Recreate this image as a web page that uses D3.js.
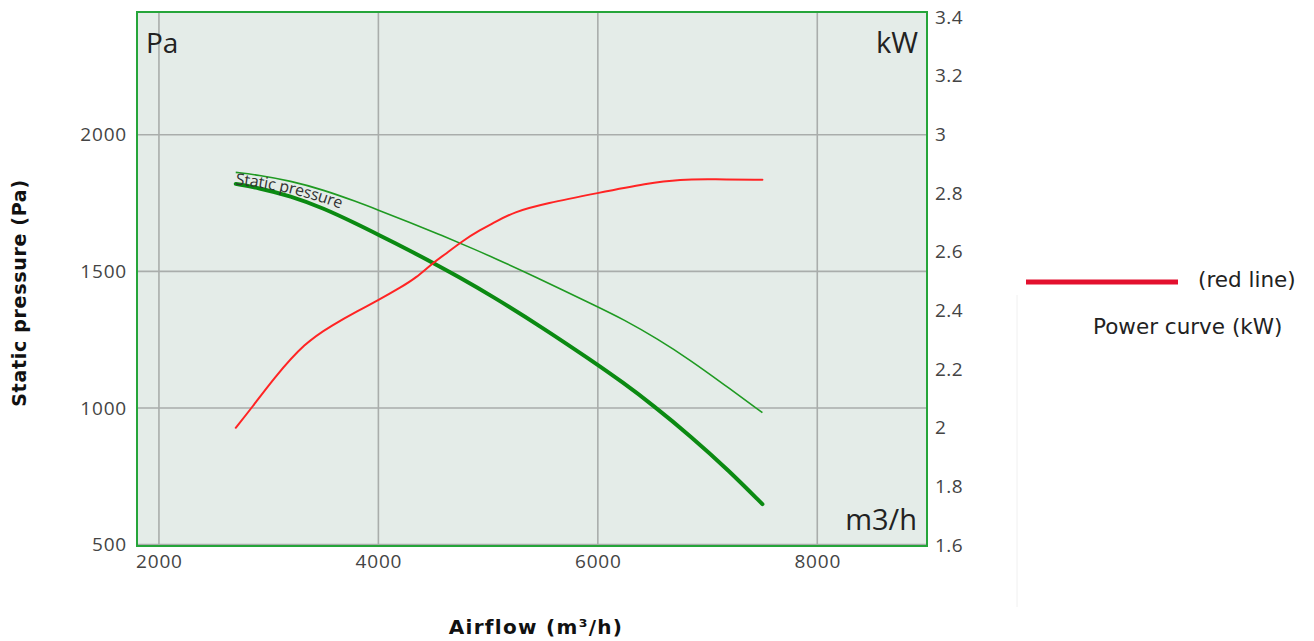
<!DOCTYPE html>
<html>
<head>
<meta charset="utf-8">
<script src="https://cdn.jsdelivr.net/npm/d3@7"></script>
<style>
  html, body { margin: 0; padding: 0; background: #ffffff; }
  svg { display: block; }
</style>
</head>
<body>
<svg id="chart" width="1314" height="641"></svg>
<script>
// ---------- data ----------
const xTicks = [2000, 4000, 6000, 8000];
const yLeftTicks = [500, 1000, 1500, 2000];
const yRightTicks = [1.6, 1.8, 2.0, 2.2, 2.4, 2.6, 2.8, 3.0, 3.2, 3.4];

// thick green: static pressure curve (Pa)
const pressureAirflow = [2700, 2900, 3200, 3500, 3800, 4000, 4275, 4490, 4730, 5030, 5500, 5930, 6230, 6500, 6840, 7200, 7500];
const pressureValues  = [1820, 1806, 1776, 1731, 1674, 1634, 1578, 1533, 1480, 1411, 1293, 1177, 1093, 1011, 899, 769, 648];

// thin green: upper static pressure curve (Pa)
const upperAirflow = [2700, 2900, 3200, 3500, 3800, 4000, 4275, 4580, 4880, 5060, 5380, 6000, 6230, 6540, 6840, 7140, 7500];
const upperValues  = [1862, 1853, 1831, 1798, 1755, 1724, 1681, 1631, 1580, 1548, 1490, 1370, 1325, 1254, 1176, 1089, 983];

// red: power curve (kW)
const powerAirflow = [2700, 2850, 3050, 3330, 3580, 3820, 4000, 4210, 4340, 4490, 4640, 4760, 4930, 5060, 5230, 5530, 6000, 6450, 6750, 7050, 7500];
const powerValues  = [2.0, 2.07, 2.17, 2.29, 2.35, 2.40, 2.435, 2.48, 2.51, 2.56, 2.60, 2.635, 2.675, 2.70, 2.735, 2.765, 2.80, 2.833, 2.847, 2.847, 2.845];

const curveLabel = "Static pressure";
const unitLeft = "Pa", unitRight = "kW", unitX = "m3/h";
const titleY = "Static pressure (Pa)";
const titleX = "Airflow (m\u00B3/h)";
const legendLabel1 = "(red line)";
const legendLabel2 = "Power curve (kW)";

// ---------- layout ----------
const L = 137, R = 927, T = 12, B = 546;
const svg = d3.select("#chart");

const x = d3.scaleLinear().domain([1800, 9000]).range([L, R]);
const yL = d3.scaleLinear().domain([495, 2449]).range([B, T]);
const yR = d3.scaleLinear().domain([1.597, 3.417]).range([B, T]);

// background
svg.append("rect").attr("x", L).attr("y", T).attr("width", R - L).attr("height", B - T)
  .attr("fill", "#e4ece8");

// grid
const grid = svg.append("g");
grid.selectAll("line.v").data(xTicks).enter().append("line")
  .attr("x1", d => x(d)).attr("x2", d => x(d)).attr("y1", T).attr("y2", B)
  .attr("stroke", "#a9adab").attr("stroke-width", 1.6);
grid.selectAll("line.h").data(yLeftTicks).enter().append("line")
  .attr("x1", L).attr("x2", R).attr("y1", d => yL(d)).attr("y2", d => yL(d))
  .attr("stroke", "#a9adab").attr("stroke-width", 1.6);

// axes
const fontTick = "'Open Sans', sans-serif";
const gx = svg.append("g").attr("transform", `translate(0,${B})`)
  .call(d3.axisBottom(x).tickValues(xTicks).tickSize(0).tickPadding(9).tickFormat(d3.format("d")));
const gyl = svg.append("g").attr("transform", `translate(${L},0)`)
  .call(d3.axisLeft(yL).tickValues(yLeftTicks).tickSize(0).tickPadding(10).tickFormat(d3.format("d")));
const gyr = svg.append("g").attr("transform", `translate(${R},0)`)
  .call(d3.axisRight(yR).tickValues(yRightTicks).tickSize(0).tickPadding(8).tickFormat(d3.format("~g")));
[gx, gyl, gyr].forEach(g => {
  g.select(".domain").remove();
  g.selectAll("text").attr("font-family", fontTick).attr("font-size", 19)
    .attr("letter-spacing", "0.8px").attr("fill", "#444");
});
gyr.selectAll("text").attr("letter-spacing", "0.4px");

// line generators
const lineP = d3.line().x((d, i) => x(pressureAirflow[i])).y(d => yL(d)).curve(d3.curveBasis);
const lineU = d3.line().x((d, i) => x(upperAirflow[i])).y(d => yL(d)).curve(d3.curveBasis);
const lineW = d3.line().x((d, i) => x(powerAirflow[i])).y(d => yR(d)).curve(d3.curveBasis);

svg.append("path").attr("id", "upperPath").attr("d", lineU(upperValues))
  .attr("fill", "none").attr("stroke", "#1f9a22").attr("stroke-width", 1.6);
svg.append("path").attr("d", lineP(pressureValues))
  .attr("fill", "none").attr("stroke", "#0b8a12").attr("stroke-width", 4).attr("stroke-linecap", "round");
svg.append("path").attr("d", lineW(powerValues))
  .attr("fill", "none").attr("stroke", "#ff2424").attr("stroke-width", 2).attr("stroke-linecap", "round");

// curve label along the upper curve
svg.append("text").attr("font-family", fontTick).attr("font-size", 16).attr("fill", "#333")
  .attr("dy", 12)
  .append("textPath").attr("href", "#upperPath").attr("startOffset", 1).text(curveLabel);

// border
svg.append("rect").attr("x", L).attr("y", T).attr("width", R - L).attr("height", B - T)
  .attr("fill", "none").attr("stroke", "#25a53a").attr("stroke-width", 2);

// unit labels inside plot
svg.append("text").attr("x", 146).attr("y", 53).attr("font-family", fontTick).attr("font-size", 28)
  .attr("fill", "#222").text(unitLeft);
svg.append("text").attr("x", 918).attr("y", 53).attr("text-anchor", "end").attr("font-family", fontTick)
  .attr("font-size", 29).attr("fill", "#222").text(unitRight);
svg.append("text").attr("x", 917).attr("y", 530).attr("text-anchor", "end").attr("font-family", fontTick)
  .attr("font-size", 29).attr("fill", "#222").text(unitX);

// axis titles
svg.append("text").attr("transform", "translate(26,293) rotate(-90)").attr("text-anchor", "middle")
  .attr("font-family", "'DejaVu Sans', Verdana, sans-serif").attr("font-weight", "bold")
  .attr("font-size", 19).attr("letter-spacing", "0.7px").attr("fill", "#111").text(titleY);
svg.append("text").attr("x", 536).attr("y", 634).attr("text-anchor", "middle")
  .attr("font-family", "'DejaVu Sans', Verdana, sans-serif").attr("font-weight", "bold")
  .attr("font-size", 20).attr("letter-spacing", "1.3px").attr("fill", "#111").text(titleX);

// legend
svg.append("line").attr("x1", 1017).attr("x2", 1017).attr("y1", 295).attr("y2", 607)
  .attr("stroke", "#f0f0f0").attr("stroke-width", 1);
svg.append("line").attr("x1", 1026).attr("x2", 1178).attr("y1", 282).attr("y2", 282)
  .attr("stroke", "#e3102e").attr("stroke-width", 5);
svg.append("text").attr("x", 1198).attr("y", 287).attr("font-family", "'DejaVu Sans', Verdana, sans-serif")
  .attr("font-size", 21.5).attr("fill", "#222").text(legendLabel1);
svg.append("text").attr("x", 1093).attr("y", 334).attr("font-family", "'DejaVu Sans', Verdana, sans-serif")
  .attr("font-size", 21.5).attr("fill", "#222").text(legendLabel2);
</script>
</body>
</html>
